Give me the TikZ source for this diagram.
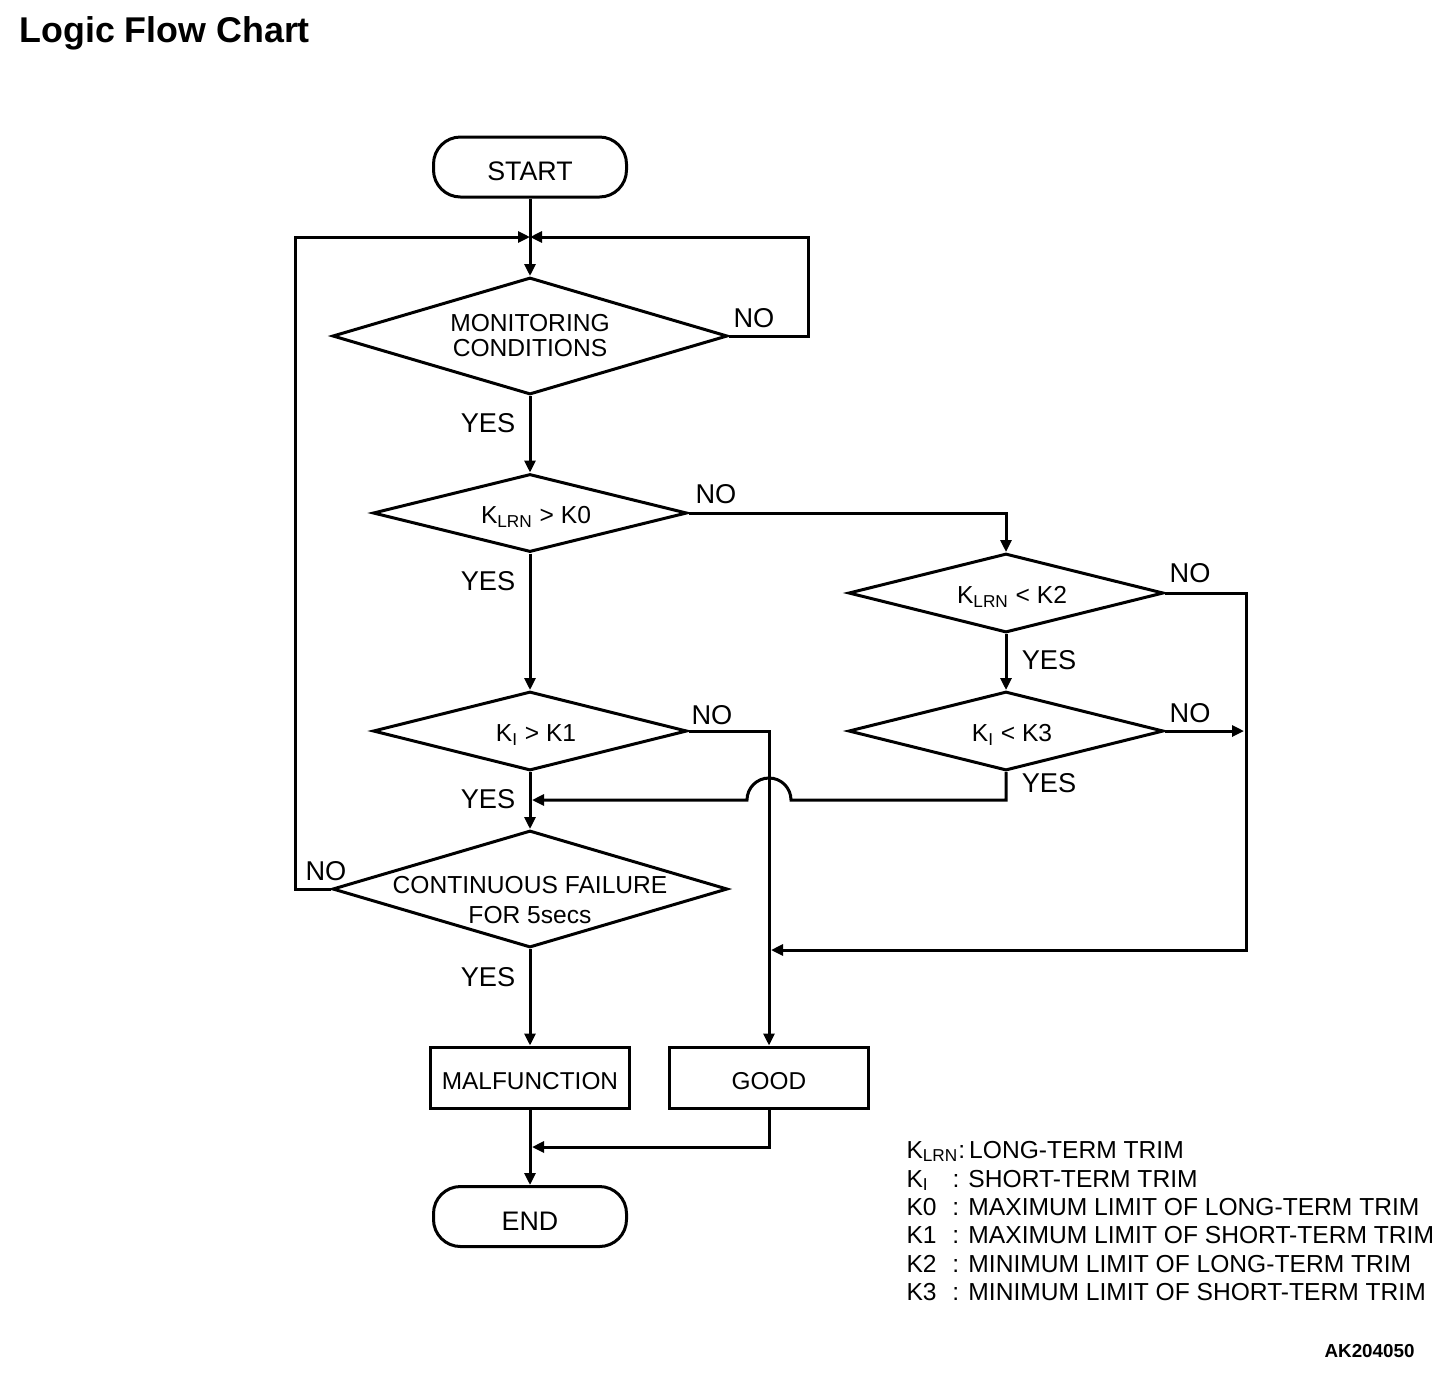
\documentclass[tikz,border=0pt]{standalone}
\usepackage{fontspec}
\setmainfont{Liberation Sans}
\usetikzlibrary{shapes.geometric,arrows.meta}
\begin{document}
\begin{tikzpicture}[x=0.5pt,y=-0.5pt,line width=1.5pt,
  arr/.style={-{Triangle[length=6pt,width=5.5pt]}},
  dia/.style={draw,diamond,inner sep=0pt,line width=1.5pt},
  dtext/.style={font=\fontsize{12.3}{12.5}\selectfont,align=center,inner sep=0pt},
  ktext/.style={font=\fontsize{12.3}{12.5}\selectfont,inner sep=0pt,xshift=3pt,yshift=-2pt},
  term/.style={draw,rounded corners=13.5pt,minimum width=96.5pt,minimum height=30pt,inner sep=0pt,text height=13.6pt,text depth=0pt,font=\fontsize{13.4}{16}\selectfont},
  boxn/.style={draw,minimum width=99.5pt,minimum height=30.5pt,inner sep=0pt,text height=11.7pt,text depth=0pt,font=\fontsize{12.2}{14}\selectfont},
  lbl/.style={font=\fontsize{13.6}{16}\selectfont,inner sep=0pt},
  leg/.style={anchor=base west,inner sep=0pt,font=\fontsize{12.3}{14}\selectfont}]
\useasboundingbox (0,0) rectangle (1456,1372);

\node[anchor=base west,inner sep=0pt,font=\bfseries\fontsize{17.9}{20}\selectfont] (title) at (18,42) {Logic Flow Chart};

\node[term] (start) at (530,167) {START};
\node[dia,minimum width=197.5pt,minimum height=58.5pt,
  label={[dtext]center:MONITORING\\CONDITIONS}] (d1) at (530,336) {};
\node[dia,minimum width=157pt,minimum height=39pt,
  label={[ktext]center:K\textsubscript{LRN} > K0}] (d2) at (530,513) {};
\node[dia,minimum width=157pt,minimum height=39.5pt,
  label={[ktext]center:K\textsubscript{I} > K1}] (d3) at (530,731) {};
\node[dia,minimum width=197.5pt,minimum height=58.5pt,
  label={[dtext,font=\fontsize{12.3}{15}\selectfont,yshift=-5.5pt]center:CONTINUOUS FAILURE\\FOR 5secs}] (d4) at (530,889) {};
\node[dia,minimum width=157.5pt,minimum height=39.5pt,
  label={[ktext]center:K\textsubscript{LRN} < K2}] (d5) at (1006,593) {};
\node[dia,minimum width=157.5pt,minimum height=39.5pt,
  label={[ktext]center:K\textsubscript{I} < K3}] (d6) at (1006,731) {};
\node[boxn] (mal) at (530,1077.5) {MALFUNCTION};
\node[boxn] (good) at (769,1077.5) {GOOD};
\node[term] (end) at (530,1216.5) {END};

\coordinate (j1) at (530,237);
\coordinate (j2) at (532,800);
\coordinate (j3) at (771,950);
\coordinate (j4) at (1244,731);
\coordinate (j5) at (532,1147);

\draw[arr] (start.south) -- (d1.north);
\draw[arr] (d1.east) -- ++(79,0) |- (j1);
\draw[arr] (d4.west) -- ++(-36,0) |- (j1);
\draw[arr] (d1.south) -- (d2.north);
\draw[arr] (d2.east) -| (d5.north);
\draw[arr] (d2.south) -- (d3.north);
\draw[arr] (d3.east) -| (good.north);
\draw[arr] (d3.south) -- (d4.north);
\draw[arr] (d6.south) |- (791,800) arc[start angle=0,end angle=180,radius=11pt] -- (j2);
\draw[arr] (d4.south) -- (mal.north);
\draw[arr] (d5.south) -- (d6.north);
\draw[arr] (d5.east) -- ++(81,0) |- (j3);
\draw[arr] (d6.east) -- (j4);
\draw[arr] (mal.south) -- (end.north);
\draw[arr] (good.south) |- (j5);

\node[lbl] (n1) at (754,318) {NO};
\node[lbl] (y1) at (488,423) {YES};
\node[lbl] (n2) at (716,494) {NO};
\node[lbl] (y2) at (488,581) {YES};
\node[lbl] (n3) at (712,715) {NO};
\node[lbl] (y3) at (488,799) {YES};
\node[lbl] (n4) at (326,871) {NO};
\node[lbl] (y4) at (488,977) {YES};
\node[lbl] (n5) at (1190,573) {NO};
\node[lbl] (y5) at (1049,660) {YES};
\node[lbl] (n6) at (1190,713) {NO};
\node[lbl] (y6) at (1049,783) {YES};

\node[leg] (l1) at (905,1158) {K\textsubscript{LRN}:\hspace{2pt}LONG-TERM TRIM};
\node[leg] (l2) at (905,1187) {\makebox[23pt][l]{K\textsubscript{I}}: SHORT-TERM TRIM};
\node[leg] (l3) at (905,1215) {\makebox[23pt][l]{K0}: MAXIMUM LIMIT OF LONG-TERM TRIM};
\node[leg] (l4) at (905,1243) {\makebox[23pt][l]{K1}: MAXIMUM LIMIT OF SHORT-TERM TRIM};
\node[leg] (l5) at (905,1272) {\makebox[23pt][l]{K2}: MINIMUM LIMIT OF LONG-TERM TRIM};
\node[leg] (l6) at (905,1300) {\makebox[23pt][l]{K3}: MINIMUM LIMIT OF SHORT-TERM TRIM};

\node[anchor=base east,inner sep=0pt,font=\bfseries\fontsize{9.4}{11}\selectfont] (code) at (1416,1357) {AK204050};
\end{tikzpicture}
\end{document}
